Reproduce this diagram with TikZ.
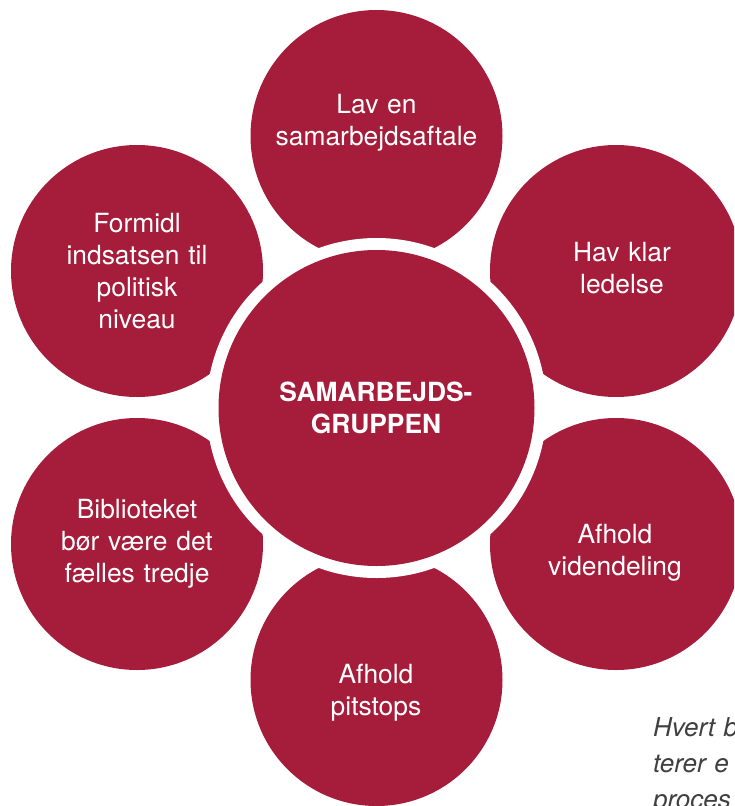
\documentclass[tikz,border=0pt]{standalone}
\usepackage{fontspec}
\setmainfont{TeX Gyre Heros}
\definecolor{crim}{HTML}{A51D3A}
\definecolor{capgray}{HTML}{404040}
\begin{document}
\begin{tikzpicture}[x=1pt,y=-1pt,
  petal/.style={circle,fill=crim,minimum size=252pt,inner sep=0pt,outer sep=0pt},
  ringstyle/.style={circle,fill=white,minimum size=340pt,inner sep=0pt,outer sep=0pt},
  hubstyle/.style={circle,fill=crim,minimum size=316pt,inner sep=0pt,outer sep=0pt},
  ptext/.style={text=white,align=center,text width=300pt,inner sep=0pt,anchor=base,
    font=\fontsize{26.4}{32}\selectfont},
  htext/.style={ptext,font=\fontsize{26.4}{32}\selectfont\bfseries},
  captext/.style={text=capgray,align=left,text width=200pt,inner sep=0pt,anchor=base west,
    font=\fontsize{26}{36}\selectfont\itshape}]
\useasboundingbox (0,0) rectangle (734,806);
\clip (0,0) rectangle (734,806);
% outer circles
\node[petal] (ctop) at (376.5,136) {};
\node[petal] (cul) at (137,271) {};
\node[petal] (cur) at (616,271) {};
\node[petal] (cll) at (137,544) {};
\node[petal] (clr) at (616,544) {};
\node[petal] (cbot) at (376.5,680) {};
% centre
\node[ringstyle] (ring) at (376.5,408) {};
\node[hubstyle] (hub) at (376.5,408) {};
% texts
\node[ptext] (ttop) at (376.5,113) {Lav en\\samarbejdsaftale};
\node[ptext] (tul) at (137,232) {Formidl\\indsatsen til\\politisk\\niveau};
\node[ptext] (tur) at (622,261) {Hav klar\\ledelse};
\node[ptext] (tlr) at (615,543) {Afhold\\videndeling};
\node[ptext] (tbot) at (376,683) {Afhold\\pitstops};
\node[ptext] (tll) at (137,518) {Biblioteket\\bør være det\\fælles tredje};
\node[htext] (thub) at (376,401) {SAMARBEJDS-\\GRUPPEN};
% caption (cut by the page edge, as in the reference)
\node[captext] (cap) at (653,736) {Hvert b\\terer e\\proces};
\end{tikzpicture}
\end{document}
